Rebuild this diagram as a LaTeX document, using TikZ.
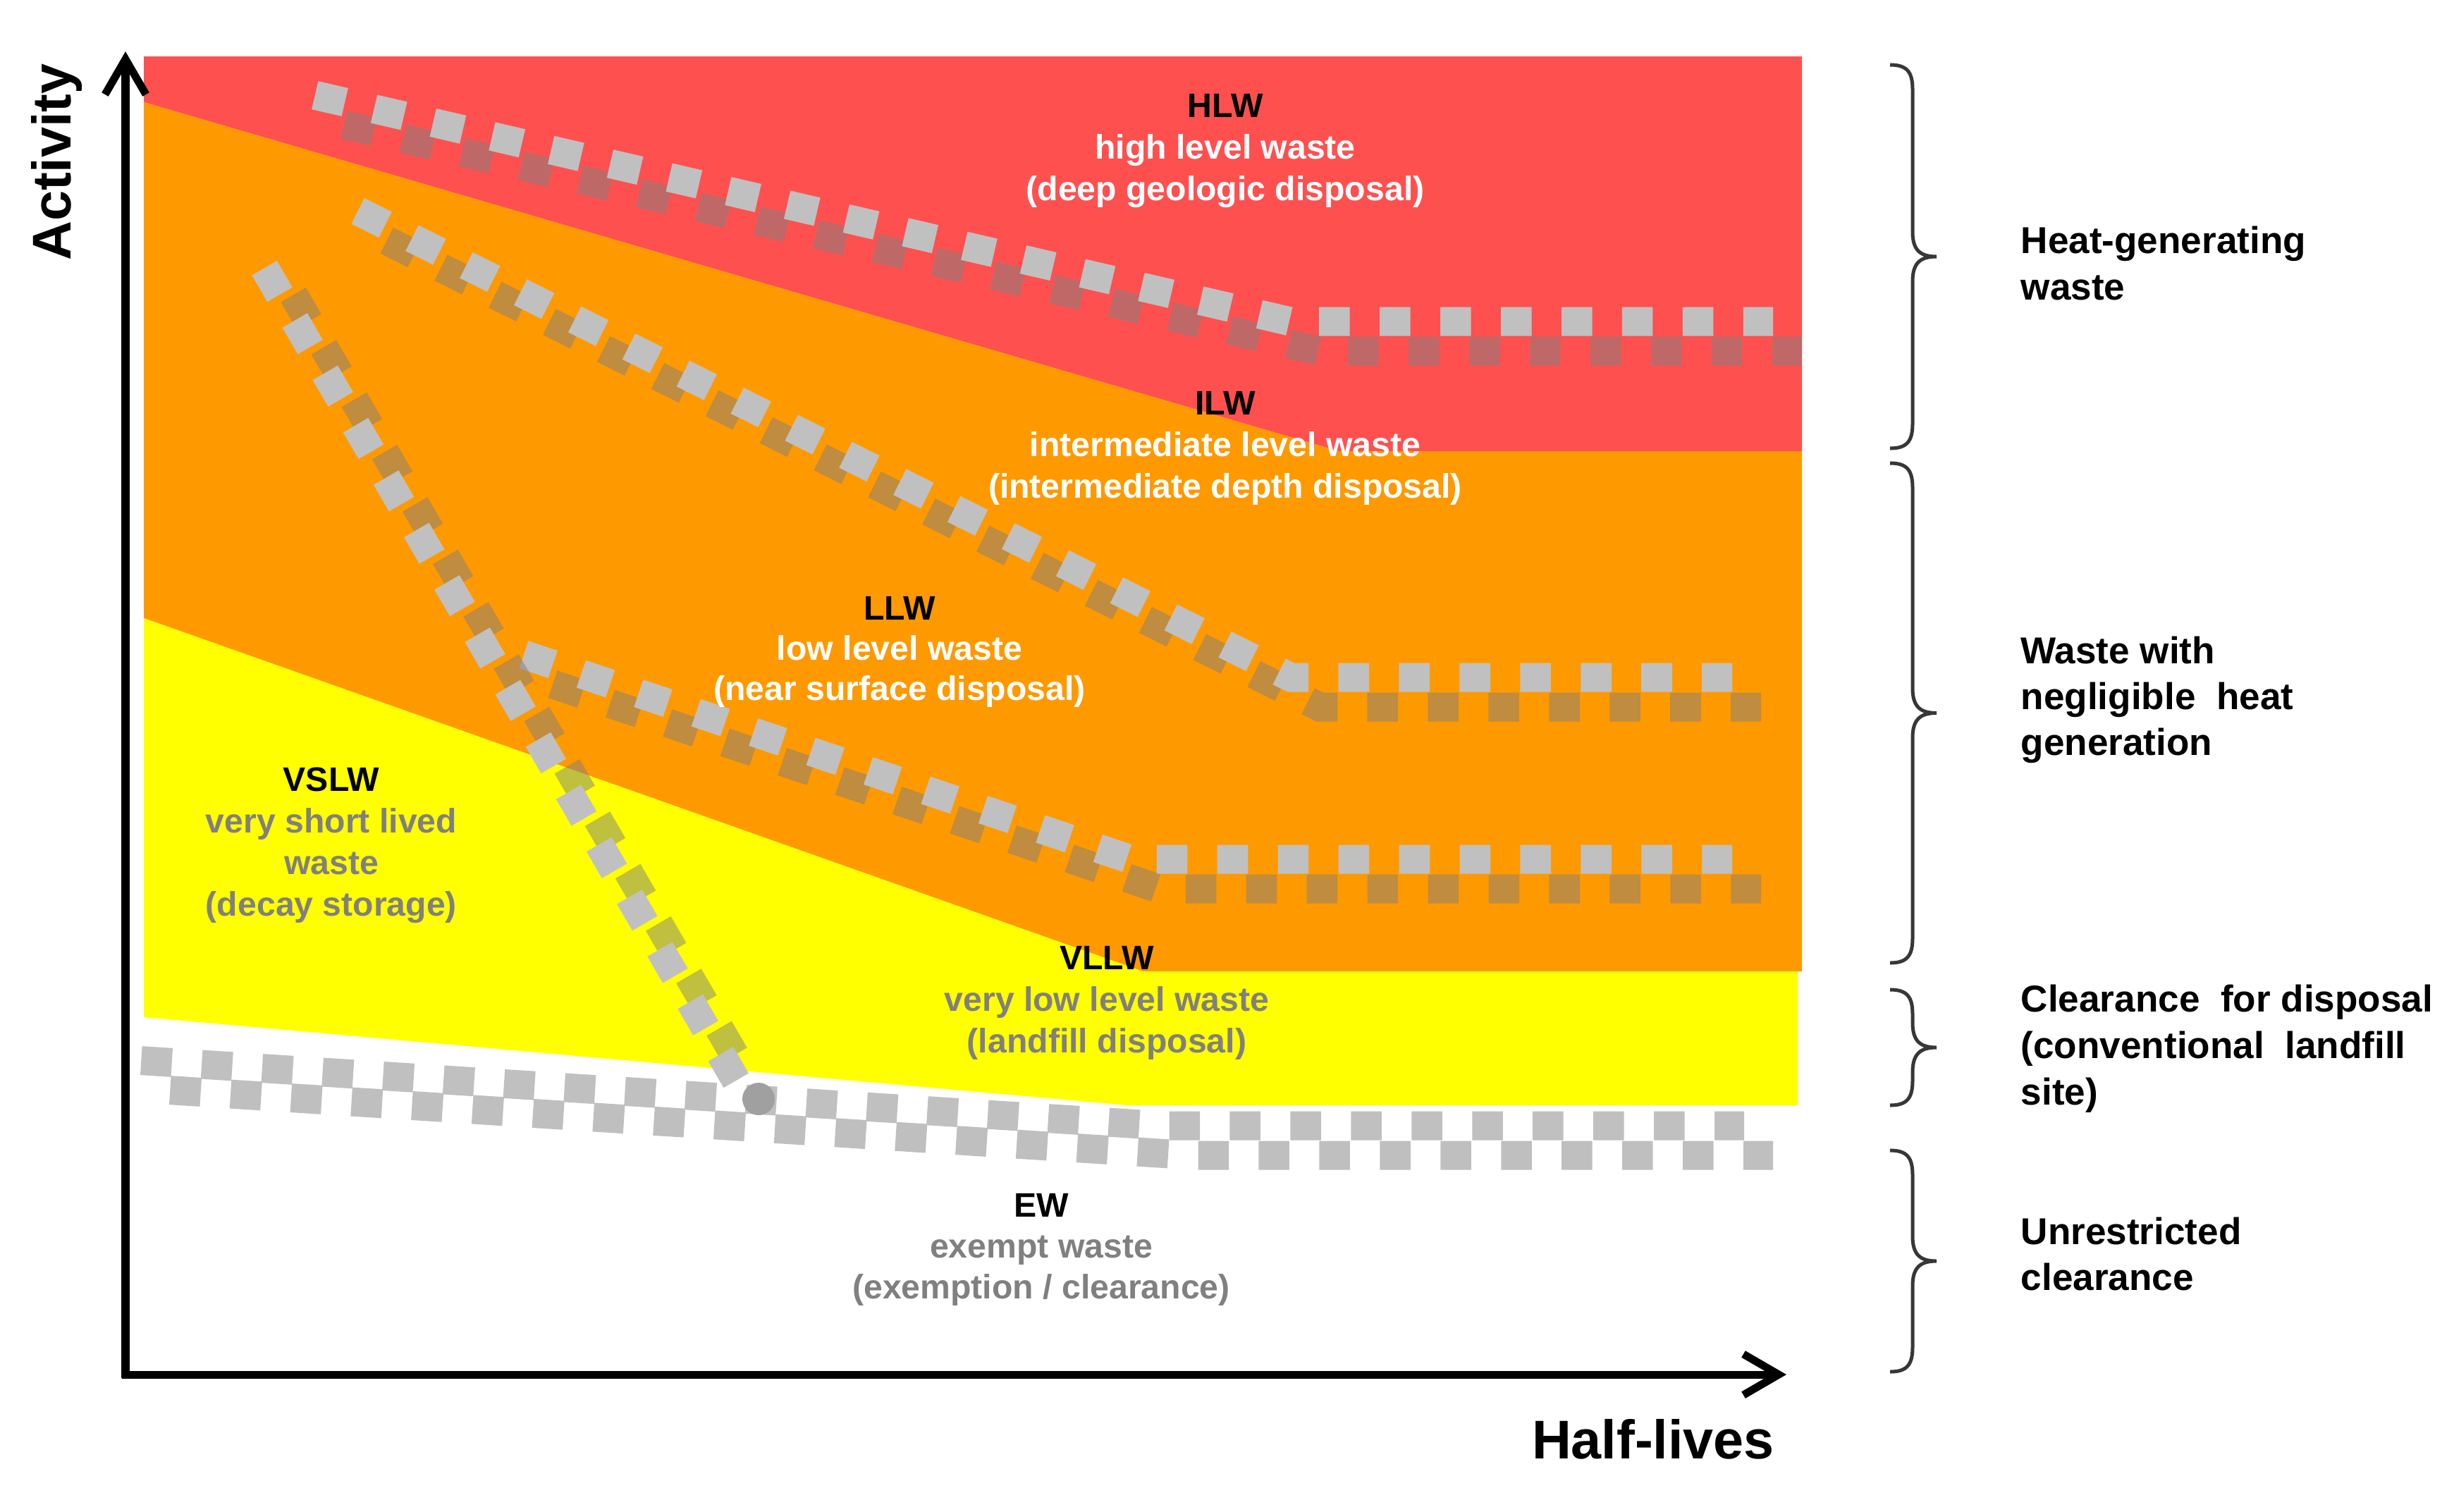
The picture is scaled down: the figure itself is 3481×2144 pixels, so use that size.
\documentclass[tikz,border=0pt]{standalone}
\usepackage{fontspec}
\setmainfont{Liberation Sans}
\usetikzlibrary{arrows.meta}
\definecolor{hlwred}{RGB}{255,80,80}
\definecolor{ilworange}{RGB}{255,153,0}
\definecolor{vllwyellow}{RGB}{255,255,0}
\definecolor{chklight}{RGB}{192,192,192}
\definecolor{chkdark}{RGB}{128,128,128}
\definecolor{dotgray}{RGB}{160,160,160}
\definecolor{txtgray}{RGB}{128,128,128}
\definecolor{bracegray}{RGB}{55,55,55}
\begin{document}
\begin{tikzpicture}[x=0.01cm,y=-0.01cm,
  chkup/.style={draw=chklight,line width=0.41cm,dash pattern=on 0.435cm off 0.424cm},
  chklo/.style={draw=chkdark,draw opacity=0.5,line width=0.41cm,dash pattern=on 0.435cm off 0.424cm},
  lbl/.style={font=\fontsize{13.7pt}{16pt}\selectfont\bfseries,inner sep=0pt,anchor=base,text=black},
  lblw/.style={lbl,text=white},
  lblg/.style={lbl,text=txtgray},
  side/.style={font=\fontsize{15.1pt}{18pt}\selectfont\bfseries,inner sep=0pt,anchor=base west,text=black},
  axlbl/.style={font=\fontsize{22pt}{26pt}\selectfont\bfseries,inner sep=0pt,text=black},
  axis/.style={draw=black,line width=0.11cm},
  brc/.style={draw=bracegray,line width=0.05cm}]
\useasboundingbox (0,0) rectangle (3481,2144);
% regions
\fill[hlwred] (204,80) -- (2556,80) -- (2556,640) -- (1899,640) -- (204,145) -- cycle;
\fill[ilworange] (204,145) -- (1899,640) -- (2556,640) -- (2556,1378) -- (1621,1378) -- (204,877) -- cycle;
\fill[vllwyellow] (204,877) -- (1621,1378) -- (2550,1378) -- (2550,1568) -- (1600,1568) -- (204,1443) -- cycle;
% checkered boundaries (dark row = light row shifted)
\draw[chklo,shift={(41,42)}] (446.8,135.1) -- (1830,456) -- (2515,456);
\draw[chkup] (446.8,135.1) -- (1830,456) -- (2515,456);
\draw[chklo,shift={(41,42)}] (507.6,299.3) -- (1831,961) -- (2457,961);
\draw[chkup] (507.6,299.3) -- (1831,961) -- (2457,961);
\draw[chklo,shift={(41,42)}] (743,928.6) -- (1603.6,1219) -- (2457,1219);
\draw[chkup] (743,928.6) -- (1603.6,1219) -- (2457,1219);
\draw[chklo,shift={(41,42)}] (200.3,1504.6) -- (1650,1597) -- (2474,1597);
\draw[chkup] (200.3,1504.6) -- (1650,1597) -- (2474,1597);
\draw[chklo,shift={(41,38)}] (375.1,380.2) -- (1021.7,1494.3);
\draw[chkup] (375.1,380.2) -- (1045.9,1535.8);
\fill[dotgray] (1076,1559) circle[radius=0.23cm];
% labels inside the chart
\node[lbl]  (hlw)  at (1738,166) {HLW};
\node[lblw] (hlwa) at (1738,225) {high level waste};
\node[lblw] (hlwb) at (1738,284) {(deep geologic disposal)};
\node[lbl]  (ilw)  at (1738,588) {ILW};
\node[lblw] (ilwa) at (1738,647) {intermediate level waste};
\node[lblw] (ilwb) at (1738,706) {(intermediate depth disposal)};
\node[lbl]  (llw)  at (1276,879) {LLW};
\node[lblw] (llwa) at (1276,936) {low level waste};
\node[lblw] (llwb) at (1276,993) {(near surface disposal)};
\node[lbl]  (vslw)  at (470,1122) {VSLW};
\node[lblg] (vslwa) at (470,1181) {very short lived};
\node[lblg] (vslwb) at (470,1240) {waste};
\node[lblg] (vslwc) at (470,1299) {(decay storage)};
\node[lbl]  (vllw)  at (1570,1375) {VLLW};
\node[lblg] (vllwa) at (1570,1434) {very low level waste};
\node[lblg] (vllwb) at (1570,1493) {(landfill disposal)};
\node[lbl]  (ew)  at (1477,1726) {EW};
\node[lblg] (ewa) at (1477,1784) {exempt waste};
\node[lblg] (ewb) at (1477,1842) {(exemption / clearance)};
% axes
\coordinate (orig) at (178,1950);
\coordinate (ytip) at (178,73);
\coordinate (xtip) at (2534,1950);
\draw[axis,-{Straight Barb[length=0.5cm,width=0.58cm]}] (178,1955) -- (ytip);
\draw[axis,-{Straight Barb[length=0.5cm,width=0.58cm]}] (173,1950) -- (xtip);
\node[axlbl,rotate=90] (act) at (80,230) {Activity};
\node[axlbl,anchor=base] (half) at (2345,2069) {Half-lives};
% braces
\foreach \ya/\yb in {92/636, 657/1366, 1404/1568, 1632/1946}{
  \pgfmathsetmacro\ym{(\ya+\yb)/2}
  \draw[brc] (2681,\ya) .. controls (2705,\ya) and (2713,\ya+10) .. (2713,\ya+35)
    -- (2713,\ym-35) .. controls (2713,\ym-8) and (2725,\ym) .. (2747,\ym)
    .. controls (2725,\ym) and (2713,\ym+8) .. (2713,\ym+35)
    -- (2713,\yb-35) .. controls (2713,\yb-10) and (2705,\yb) .. (2681,\yb);
}
% side texts
\node[side] (heata) at (2866,359) {Heat-generating};
\node[side] (heatb) at (2866,425) {waste};
\node[side] (negla) at (2866,941) {Waste with};
\node[side] (neglb) at (2866,1006) {negligible\ \ heat};
\node[side] (neglc) at (2866,1071) {generation};
\node[side] (cleara) at (2866,1435) {Clearance\ \ for disposal};
\node[side] (clearb) at (2866,1501) {(conventional\ \ landfill};
\node[side] (clearc) at (2866,1567) {site)};
\node[side] (unra) at (2866,1765) {Unrestricted};
\node[side] (unrb) at (2866,1830) {clearance};
\end{tikzpicture}
\end{document}
